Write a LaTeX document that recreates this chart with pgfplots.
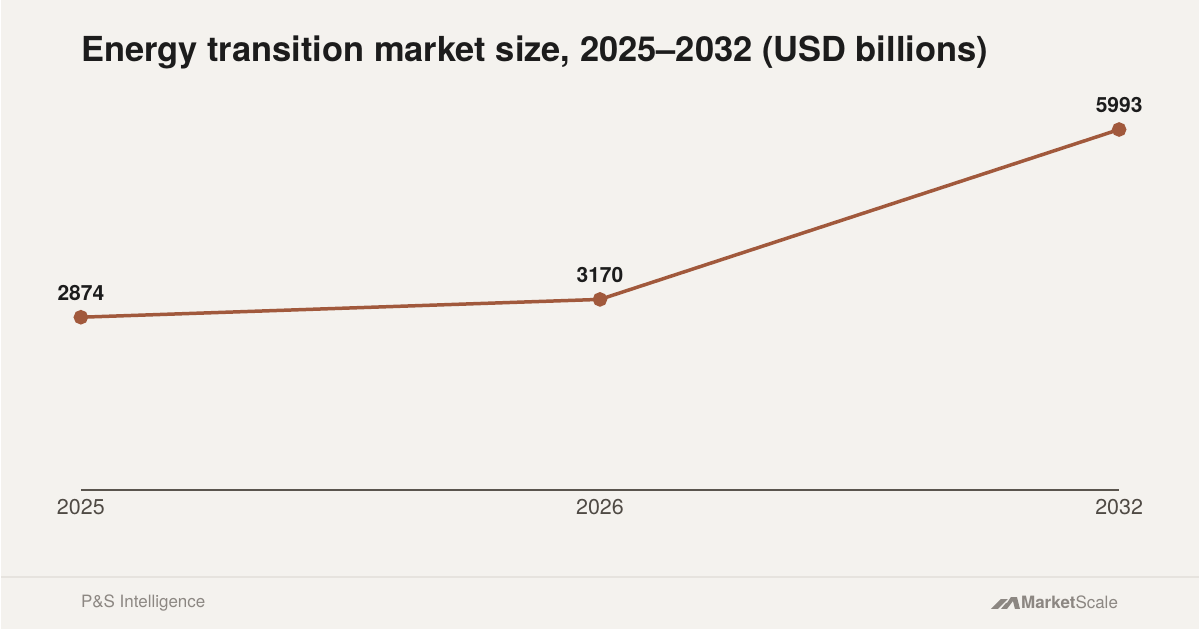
\documentclass[border=0pt]{standalone}
\usepackage{pgfplots}
\pgfplotsset{compat=1.18}
\usepackage{fontspec}
\setmainfont{TeX Gyre Heros}
\definecolor{bg}{HTML}{F4F2EE}
\definecolor{linec}{HTML}{A1593C}
\definecolor{axc}{HTML}{5A554E}
\definecolor{tickc}{HTML}{4F4A44}
\definecolor{titlec}{HTML}{1C1C1C}
\definecolor{footc}{HTML}{8C8782}
\definecolor{sepc}{HTML}{E6E3DE}
\begin{document}
\begin{tikzpicture}[x=1pt,y=1pt]
\fill[bg] (0,0) rectangle (1200,630);
\node[anchor=base west, inner sep=0, text=titlec, font=\fontsize{34.5}{40}\selectfont\bfseries] at (80,568) {Energy transition market size, 2025–2032 (USD billions)};
\draw[sepc, line width=2pt] (0,52) -- (1200,52);
\node[anchor=base west, inner sep=0, text=footc, font=\fontsize{17}{20}\selectfont] at (80,21) {P\&S Intelligence};
\node[anchor=base east, inner sep=0, text=footc, font=\fontsize{17}{20}\selectfont] (ms) at (1119,20) {\textbf{Market}Scale};
\fill[footc] ([xshift=-30pt]ms.base west) -- ++(7,0) -- ++(10,10) -- ++(-7,0) -- cycle;
\fill[footc] ([xshift=-20pt]ms.base west) -- ++(6,0) -- ++(6,8) -- ++(2,-8) -- ++(5,0) -- ++(-3,12) -- ++(-6,0) -- ++(-4,-6) -- ++(-1,0) -- cycle;
\begin{axis}[
  at={(80pt,139pt)}, anchor=south west,
  scale only axis, width=1040pt, height=361.7pt,
  xmin=0, xmax=2, ymin=0, ymax=6000,
  axis x line=bottom, axis y line=none,
  axis line style={-, draw=axc, line width=1.5pt},
  xtick={0,1,2}, xticklabels={2025,2026,2032},
  major tick length=0pt,
  ytick=\empty,
  xticklabel style={text=tickc, font=\fontsize{21.5}{24}\selectfont, yshift=-6pt},
  clip=false,
  /pgf/number format/.cd, 1000 sep={}, assume math mode=true, /pgfplots/.cd,
  nodes near coords,
  every node near coord/.append style={font=\fontsize{21}{24}\selectfont\bfseries, text=titlec, anchor=south, inner sep=0pt, yshift=15pt},
]
\addplot[color=linec, line width=3.5pt, mark=*, mark size=5.5pt, mark options={fill=linec, draw=none}] coordinates {(0,2874) (1,3170) (2,5993)};
\end{axis}
\end{tikzpicture}
\end{document}
